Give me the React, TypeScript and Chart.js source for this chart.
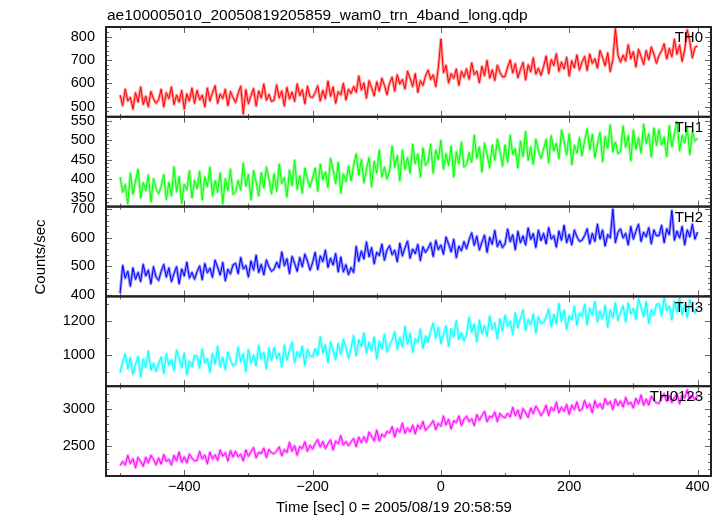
import React, { useEffect, useRef } from 'react';
import { Chart, registerables } from 'chart.js';

Chart.register(...registerables);

const TITLE = 'ae100005010_20050819205859_wam0_trn_4band_long.qdp';
const X_TITLE = 'Time [sec] 0 = 2005/08/19 20:58:59';
const Y_TITLE = 'Counts/sec';

const TIME_START = -500;
const TIME_BIN = 4;
const X_MIN = -522;
const X_MAX = 421;
const X_LABEL_TICKS = [-400, -200, 0, 200, 400];
const X_MINOR_TICKS = [-500, -300, -100, 100, 300];

const BANDS = ['TH0', 'TH1', 'TH2', 'TH3', 'TH0123'];

const TH0 = [
  550, 505, 575, 525, 540, 490, 560, 520, 585, 510, 545, 500, 565, 535, 515,
  530, 575, 500, 560, 535, 585, 510, 550, 520, 570, 490, 555, 525, 580, 515,
  570, 530, 550, 500, 580, 525, 560, 590, 515, 555, 535, 575, 505, 565, 540,
  518, 558, 588, 470, 573, 513, 548, 578, 503, 568, 538, 598, 528, 553, 523,
  528, 593, 538, 568, 503, 583, 533, 563, 523, 598, 548, 573, 513, 588, 543,
  540, 560, 590, 525, 570, 535, 610, 545, 585, 515, 565, 550, 600, 530, 575,
  557, 587, 562, 632, 572, 602, 537, 612, 582, 547, 607, 567, 622, 592, 552,
  602, 627, 567, 637, 597, 617, 577, 652, 622, 587, 642, 562, 612, 592, 632,
  657, 617, 637, 587, 667, 790, 647, 677, 602, 642, 622, 662, 592, 652, 627,
  663, 618, 688, 638, 653, 603, 673, 633, 698, 623, 658, 613, 678, 648, 628,
  630, 670, 700, 645, 685, 625, 660, 690, 615, 680, 650, 710, 640, 665, 635,
  672, 717, 642, 702, 677, 727, 652, 692, 662, 712, 632, 697, 667, 722, 657,
  691, 716, 656, 726, 686, 706, 666, 741, 711, 676, 731, 651, 701, 835, 721,
  691, 721, 696, 766, 706, 736, 671, 746, 716, 681, 741, 701, 756, 726, 686,
  720, 740, 770, 705, 750, 715, 790, 725, 765, 695, 745, 830, 780, 710, 755,
  760,
];

const TH1 = [
  405, 365, 385, 335, 415, 360, 395, 425, 350, 390, 370, 410, 340, 400, 375,
  361, 381, 411, 346, 391, 356, 431, 366, 406, 336, 386, 371, 421, 351, 396,
  375, 420, 345, 405, 380, 430, 355, 395, 365, 415, 335, 400, 370, 425, 360,
  366, 396, 371, 441, 381, 411, 346, 421, 391, 356, 416, 376, 431, 401, 361,
  413, 368, 438, 388, 403, 353, 423, 383, 448, 373, 408, 363, 428, 398, 378,
  403, 428, 368, 438, 398, 418, 378, 453, 423, 388, 443, 363, 413, 393, 433,
  395, 435, 465, 410, 450, 390, 425, 455, 380, 445, 415, 475, 405, 430, 400,
  420, 485, 430, 460, 395, 475, 425, 455, 415, 490, 440, 465, 405, 480, 435,
  445, 490, 415, 475, 450, 500, 425, 465, 435, 485, 405, 470, 440, 495, 430,
  438, 468, 443, 513, 453, 483, 418, 493, 463, 428, 488, 448, 503, 473, 433,
  488, 443, 513, 463, 478, 428, 498, 458, 523, 448, 483, 438, 503, 473, 453,
  477, 502, 442, 512, 472, 492, 452, 527, 497, 462, 517, 437, 487, 467, 507,
  460, 500, 530, 475, 515, 455, 490, 520, 445, 510, 480, 540, 470, 495, 465,
  472, 537, 482, 512, 447, 527, 477, 507, 467, 542, 492, 517, 457, 532, 487,
  528, 488, 508, 458, 538, 483, 518, 548, 473, 513, 493, 533, 463, 523, 498,
  505,
];

const TH2 = [
  405, 502, 458, 482, 430, 494, 454, 478, 446, 506, 466, 486, 438, 498, 462,
  450, 482, 506, 462, 494, 446, 474, 498, 438, 490, 466, 514, 458, 478, 454,
  481, 501, 453, 509, 477, 493, 461, 521, 497, 469, 513, 449, 489, 473, 505,
  510, 474, 530, 490, 502, 462, 518, 486, 538, 478, 506, 470, 522, 498, 482,
  490, 514, 494, 550, 502, 526, 474, 534, 510, 482, 530, 498, 542, 518, 486,
  512, 548, 488, 536, 516, 556, 496, 528, 504, 544, 480, 532, 480, 505, 470,
  495, 478, 569, 517, 553, 525, 585, 533, 565, 509, 549, 537, 577, 521, 557,
  572, 540, 556, 516, 580, 536, 564, 588, 528, 560, 544, 576, 520, 568, 548,
  562, 582, 534, 590, 558, 574, 542, 602, 578, 550, 594, 530, 570, 554, 586,
  561, 593, 617, 573, 605, 557, 585, 609, 549, 601, 577, 625, 569, 589, 565,
  578, 630, 586, 610, 558, 622, 582, 606, 574, 634, 594, 614, 566, 626, 590,
  615, 579, 635, 595, 607, 567, 623, 591, 643, 583, 611, 575, 627, 603, 587,
  591, 607, 631, 579, 615, 587, 647, 595, 627, 571, 611, 599, 700, 583, 619,
  631, 599, 615, 575, 639, 595, 623, 647, 587, 619, 603, 635, 579, 627, 607,
  607, 643, 583, 631, 611, 695, 591, 623, 599, 639, 575, 627, 603, 647, 595,
  620,
];

const TH3 = [
  897, 961, 1009, 921, 985, 889, 945, 993, 873, 977, 929, 1025, 913, 953, 905,
  950, 990, 894, 1006, 942, 974, 910, 1030, 982, 926, 1014, 886, 966, 934, 998,
  996, 924, 1036, 956, 980, 900, 1012, 948, 1052, 932, 988, 916, 1020, 972, 940,
  945, 1049, 961, 1009, 905, 1033, 953, 1001, 937, 1057, 977, 1017, 921, 1041, 969,
  1045, 981, 1013, 933, 1061, 973, 1029, 1077, 957, 1021, 989, 1053, 941, 1037, 997,
  990, 1038, 998, 1110, 1014, 1062, 958, 1078, 1030, 974, 1070, 1006, 1094, 1046, 982,
  1044, 1116, 996, 1092, 1052, 1132, 1012, 1076, 1028, 1108, 980, 1084, 1036, 1124, 1020,
  1058, 1090, 1138, 1034, 1106, 1050, 1170, 1066, 1130, 1018, 1098, 1074, 1154, 1042, 1114,
  1077, 1141, 1189, 1101, 1165, 1069, 1125, 1173, 1053, 1157, 1109, 1205, 1093, 1133, 1085,
  1120, 1224, 1136, 1184, 1080, 1208, 1128, 1176, 1112, 1232, 1152, 1192, 1096, 1216, 1144,
  1235, 1171, 1203, 1123, 1251, 1163, 1219, 1267, 1147, 1211, 1179, 1243, 1131, 1227, 1187,
  1193, 1225, 1273, 1169, 1241, 1185, 1305, 1201, 1265, 1153, 1233, 1209, 1289, 1177, 1249,
  1229, 1301, 1181, 1277, 1237, 1317, 1197, 1261, 1213, 1293, 1165, 1269, 1221, 1309, 1205,
  1252, 1292, 1196, 1308, 1244, 1276, 1212, 1332, 1284, 1228, 1316, 1188, 1268, 1236, 1300,
  1304, 1232, 1340, 1264, 1288, 1208, 1320, 1256, 1340, 1240, 1296, 1224, 1328, 1280, 1248,
  1285,
];

const TH0123 = [
  2245, 2299, 2254, 2380, 2272, 2336, 2219, 2354, 2300, 2237, 2355, 2283, 2382, 2328, 2256,
  2347, 2266, 2392, 2302, 2329, 2254, 2380, 2308, 2425, 2290, 2363, 2282, 2399, 2345, 2309,
  2315, 2432, 2333, 2387, 2270, 2424, 2334, 2388, 2316, 2451, 2371, 2416, 2308, 2443, 2362,
  2435, 2363, 2399, 2309, 2453, 2369, 2432, 2486, 2351, 2423, 2407, 2479, 2353, 2461, 2416,
  2404, 2440, 2494, 2377, 2458, 2420, 2555, 2438, 2510, 2384, 2499, 2472, 2562, 2436, 2517,
  2466, 2538, 2592, 2493, 2565, 2472, 2535, 2589, 2454, 2571, 2537, 2645, 2519, 2564, 2510,
  2561, 2606, 2498, 2624, 2552, 2628, 2556, 2691, 2637, 2574, 2718, 2574, 2664, 2628, 2700,
  2682, 2763, 2628, 2736, 2691, 2811, 2676, 2748, 2694, 2784, 2670, 2787, 2733, 2832, 2715,
  2754, 2790, 2844, 2727, 2808, 2770, 2905, 2788, 2860, 2734, 2844, 2817, 2907, 2781, 2862,
  2905, 2833, 2869, 2779, 2923, 2849, 2912, 2966, 2831, 2903, 2887, 2959, 2833, 2941, 2896,
  2885, 2939, 2894, 3020, 2912, 2986, 2869, 3004, 2950, 2887, 3010, 2938, 3037, 2983, 2911,
  2967, 3048, 2913, 3021, 2976, 3086, 2951, 3023, 2969, 3059, 2930, 3047, 2993, 3092, 2975,
  2995, 3112, 3013, 3067, 2950, 3109, 3019, 3073, 3001, 3136, 3056, 3101, 2993, 3128, 3047,
  3107, 3026, 3152, 3062, 3089, 3014, 3140, 3068, 3185, 3050, 3133, 3052, 3169, 3115, 3079,
  3076, 3148, 3202, 3103, 3175, 3087, 3150, 3204, 3069, 3186, 3147, 3255, 3129, 3174, 3120,
  3190,
];

const SERIES = [TH0, TH1, TH2, TH3, TH0123];
const PANEL_MIN = [457, 328, 394, 818, 2107];
const PANEL_MAX = [842, 561, 709, 1347, 3303];
const PANEL_LABEL_TICKS = [
  [500, 600, 700, 800],
  [350, 400, 450, 500, 550],
  [400, 500, 600, 700],
  [1000, 1200],
  [2500, 3000],
];
const PANEL_MINOR_STEP = [20, 10, 20, 100, 100];
const COLORS = ['#ff0000', '#00ff00', '#0000ff', '#00ffff', '#ff00ff'];
const HALO_COLORS = [
  'rgba(255,0,0,0.4)',
  'rgba(0,255,0,0.4)',
  'rgba(0,0,255,0.4)',
  'rgba(0,255,255,0.4)',
  'rgba(255,0,255,0.4)',
];

const FONT = '"Liberation Sans", Arial, Helvetica, sans-serif';
const AXIS_IDS = BANDS.map((_, i) => 'y' + i);

const framePlugin = {
  id: 'qdpFrame',
  afterDatasetsDraw(chart: any) {
    const ctx = chart.ctx;
    const { left, right } = chart.chartArea;
    const xs = chart.scales.x;
    ctx.save();
    AXIS_IDS.forEach((id, i) => {
      const s = chart.scales[id];
      const top = s.top;
      const bottom = s.bottom;
      ctx.strokeStyle = '#666';
      ctx.lineWidth = 1;
      ctx.beginPath();
      const drawX = (v: number, len: number) => {
        const px = Math.round(xs.getPixelForValue(v)) + 0.5;
        ctx.moveTo(px, top);
        ctx.lineTo(px, top + len);
        ctx.moveTo(px, bottom);
        ctx.lineTo(px, bottom - len);
      };
      X_LABEL_TICKS.forEach((v) => drawX(v, 6));
      X_MINOR_TICKS.forEach((v) => drawX(v, 3));
      const step = PANEL_MINOR_STEP[i];
      for (let v = Math.ceil(s.min / step) * step; v <= s.max; v += step) {
        const len = PANEL_LABEL_TICKS[i].includes(v) ? 6 : 3;
        const py = Math.round(s.getPixelForValue(v)) + 0.5;
        ctx.moveTo(left, py);
        ctx.lineTo(left + len, py);
        ctx.moveTo(right, py);
        ctx.lineTo(right - len, py);
      }
      ctx.stroke();
      ctx.strokeStyle = '#222';
      ctx.lineWidth = 2;
      ctx.strokeRect(left, top, right - left, bottom - top);
      ctx.fillStyle = '#000';
      ctx.font = '15px ' + FONT;
      ctx.textAlign = 'right';
      ctx.textBaseline = 'middle';
      ctx.fillText(BANDS[i], right - 8, top + 11);
    });
    ctx.fillStyle = '#000';
    ctx.font = '15.5px ' + FONT;
    ctx.textAlign = 'left';
    ctx.textBaseline = 'alphabetic';
    ctx.fillText(TITLE, left + 1, 20);
    ctx.font = '15px ' + FONT;
    ctx.fillText(X_TITLE, 276, 512);
    ctx.translate(45, 257);
    ctx.rotate(-Math.PI / 2);
    ctx.textAlign = 'center';
    ctx.fillText(Y_TITLE, 0, 0);
    ctx.restore();
  },
};

export default function App() {
  const ref = useRef<HTMLCanvasElement | null>(null);
  useEffect(() => {
    if (!ref.current) return;
    const times = TH0.map((_, i) => TIME_START + i * TIME_BIN);
    const datasets: any[] = [];
    SERIES.forEach((vals, i) => {
      const points = vals.map((v, j) => ({ x: times[j], y: v }));
      datasets.push({
        label: BANDS[i],
        data: points,
        xAxisID: 'x',
        yAxisID: AXIS_IDS[i],
        borderColor: COLORS[i],
        backgroundColor: COLORS[i],
        borderWidth: 1,
        borderJoinStyle: 'bevel',
        pointRadius: 0,
        tension: 0,
        fill: false,
        order: 0,
      });
      datasets.push({
        label: BANDS[i] + ' error',
        data: points,
        xAxisID: 'x',
        yAxisID: AXIS_IDS[i],
        borderColor: HALO_COLORS[i],
        backgroundColor: HALO_COLORS[i],
        borderWidth: 3,
        borderJoinStyle: 'round',
        pointRadius: 0,
        tension: 0,
        fill: false,
        order: 1,
      });
    });
    const scales: any = {
      x: {
        type: 'linear',
        position: 'bottom',
        min: X_MIN,
        max: X_MAX,
        grid: { display: false, drawTicks: false },
        border: { display: false },
        afterBuildTicks: (s: any) => {
          s.ticks = X_LABEL_TICKS.map((v) => ({ value: v }));
        },
        afterFit: (s: any) => {
          s.height = 40;
        },
        ticks: {
          padding: 2,
          color: '#000',
          font: { size: 14.5, family: FONT },
          maxRotation: 0,
          autoSkip: false,
          callback: (v: any) => (Number(v) < 0 ? '\u2212' + Math.abs(Number(v)) : String(v)),
        },
      },
    };
    AXIS_IDS.forEach((id, i) => {
      scales[id] = {
        type: 'linear',
        position: 'left',
        stack: 'panels',
        stackWeight: 1,
        weight: BANDS.length - i,
        min: PANEL_MIN[i],
        max: PANEL_MAX[i],
        grid: { display: false, drawTicks: false },
        border: { display: false },
        afterBuildTicks: (s: any) => {
          s.ticks = PANEL_LABEL_TICKS[i].map((v) => ({ value: v }));
        },
        afterFit: (s: any) => {
          s.width = 106;
        },
        ticks: {
          padding: 11,
          color: '#000',
          font: { size: 14.5, family: FONT },
          autoSkip: false,
          callback: (v: any) => String(v),
        },
      };
    });
    const chart = new Chart(ref.current, {
      type: 'line',
      data: { datasets },
      options: {
        responsive: false,
        animation: false,
        devicePixelRatio: 1,
        layout: { padding: { top: 27, right: 12, bottom: 0, left: 0 } },
        plugins: { legend: { display: false }, tooltip: { enabled: false }, title: { display: false } },
        scales,
      },
      plugins: [framePlugin],
    } as any);
    return () => chart.destroy();
  }, []);
  return (
    <div style={{ position: 'absolute', left: 0, top: 0, width: 723, height: 516, background: '#fff' }}>
      <canvas ref={ref} width={723} height={516} />
    </div>
  );
}
